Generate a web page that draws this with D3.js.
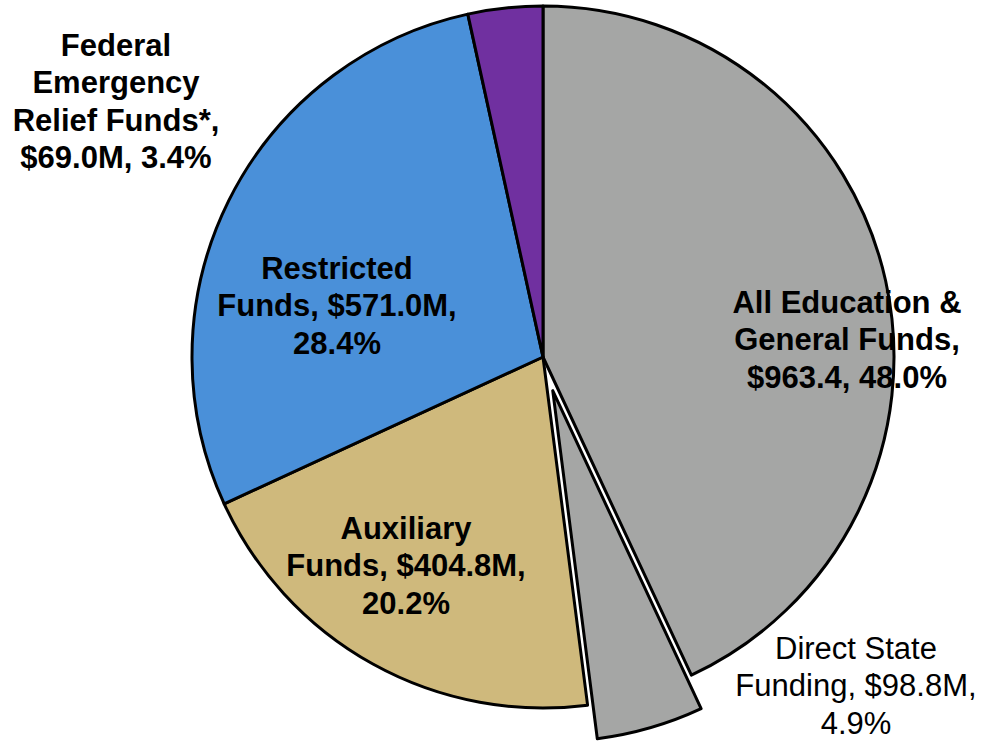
<!DOCTYPE html>
<meta charset="utf-8">
<script src="https://d3js.org/d3.v7.min.js"></script>
<style>
  body { margin: 0; background: #fff; }
  text { font-family: "Liberation Sans", Arial, sans-serif; font-size: 31px; fill: #000; }
</style>
<div id="chart"></div>
<script>

// slices clockwise from 12 o'clock ($M)
// E&G slice is shown without the Direct State share (963.4 - 98.8), which is pulled out
var categories = ["All Education & General Funds", "Direct State Funding", "Auxiliary Funds", "Restricted Funds", "Federal Emergency Relief Funds*"];
var values = [864.6, 98.8, 404.8, 571.0, 69.0];
var colors = ["#a5a6a5", "#a5a6a5", "#cfb97c", "#4a90d9", "#7030a0"];
var exploded = [false, true, false, false, false];

var labelLines = [
  ["All Education &", "General Funds,", "$963.4, 48.0%"],
  ["Direct State", "Funding, $98.8M,", "4.9%"],
  ["Auxiliary", "Funds, $404.8M,", "20.2%"],
  ["Restricted", "Funds, $571.0M,", "28.4%"],
  ["Federal", "Emergency", "Relief Funds*,", "$69.0M, 3.4%"]
];
var labelBold = [true, false, true, true, true];

// layout
var width = 983, height = 741;
var cx = 543, cy = 357, radius = 351, explode = 35, lineH = 37.3;
// label anchor: center x, first baseline y
var labelPos = [[847, 313], [856, 659], [406, 539], [337, 279], [116, 56]];

var svg = d3.select("#chart")
  .append("svg")
    .attr("width", width)
    .attr("height", height);

var pie = d3.pie().sort(null).value(function(d) { return d; });
var arcs = pie(values);

var arc = d3.arc().innerRadius(0).outerRadius(radius);

var g = svg.append("g")
  .attr("transform", "translate(" + cx + "," + cy + ")");

g.selectAll("path")
  .data(arcs)
  .enter()
  .append("path")
    .attr("d", arc)
    .attr("fill", function(d, i) { return colors[i]; })
    .attr("stroke", "#000")
    .attr("stroke-width", 3)
    .attr("stroke-linejoin", "round")
    .attr("transform", function(d, i) {
      if (!exploded[i]) return null;
      var a = (d.startAngle + d.endAngle) / 2;
      return "translate(" + (Math.sin(a) * explode) + "," + (-Math.cos(a) * explode) + ")";
    });

// labels
categories.forEach(function(c, i) {
  var t = svg.append("text")
    .attr("text-anchor", "middle")
    .attr("font-weight", labelBold[i] ? "bold" : "normal");
  labelLines[i].forEach(function(line, j) {
    t.append("tspan")
      .attr("x", labelPos[i][0])
      .attr("y", labelPos[i][1] + j * lineH)
      .text(line);
  });
});

</script>
